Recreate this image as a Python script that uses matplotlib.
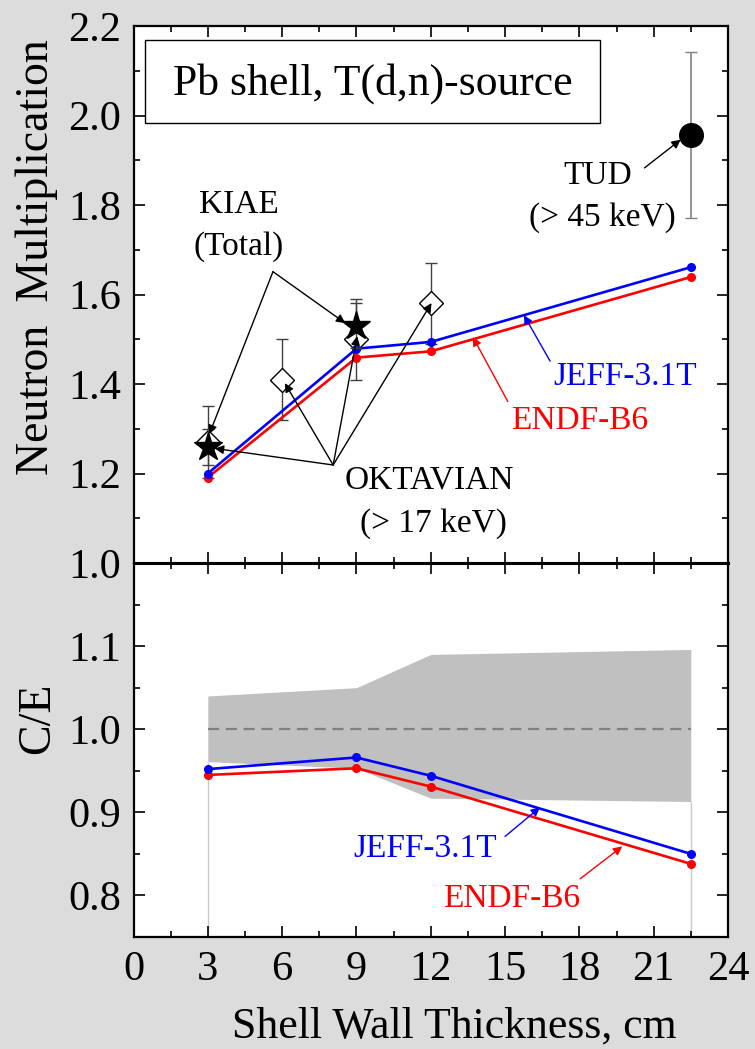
import matplotlib
matplotlib.use("Agg")
import matplotlib.pyplot as plt
from matplotlib.ticker import MultipleLocator, FormatStrFormatter, FixedLocator
from matplotlib.patches import Rectangle

# ---------------- data ----------------
x_calc = [3, 9, 12, 22.5]
jeff_mult = [1.200, 1.479, 1.494, 1.661]
endf_mult = [1.191, 1.459, 1.473, 1.639]
jeff_ce = [0.952, 0.966, 0.944, 0.850]
endf_ce = [0.945, 0.953, 0.931, 0.838]
band_upper = [1.040, 1.050, 1.090, 1.096]
band_lower = [0.961, 0.953, 0.917, 0.913]

kiae_x = [3, 9]
kiae_y = [1.26, 1.53]
kiae_err = [0.04, 0.05]

okt_x = [3, 6, 9, 12]
okt_y = [1.27, 1.41, 1.50, 1.58]
okt_err = [0.08, 0.09, 0.09, 0.09]

tud_x = [22.5]
tud_y = [1.956]
tud_err = [0.186]

x_ticks = [0, 3, 6, 9, 12, 15, 18, 21, 24]
ce_ticks = [0.8, 0.9, 1.0, 1.1]

plt.rcParams['font.family'] = ['Liberation Serif', 'DejaVu Serif']

BG = '#dcdcdc'
fig = plt.figure(figsize=(7.55, 10.49), dpi=100, facecolor=BG)
W, H = 755, 1049
L, R = 133.5, 728
T1, B1 = 26, 563
B2 = 937
ax1 = fig.add_axes([L / W, 1 - B1 / H, (R - L) / W, (B1 - T1) / H])
ax2 = fig.add_axes([L / W, 1 - B2 / H, (R - L) / W, (B2 - B1) / H])

TICK_FS = 30.5
LAB_FS = 33
ANN_FS = 24

for ax in (ax1, ax2):
    ax.set_xlim(0, 24)
    ax.xaxis.set_major_locator(MultipleLocator(3))
    ax.xaxis.set_minor_locator(MultipleLocator(1.5))
    ax.tick_params(which='both', direction='in', top=True, right=True, width=1.2)
    ax.tick_params(which='major', length=8, labelsize=TICK_FS)
    ax.tick_params(which='minor', length=4.5)
    ax.tick_params(axis='y', which='major', pad=9)
    ax.tick_params(axis='x', which='major', pad=10)
    for s in ax.spines.values():
        s.set_linewidth(1.6)

# ---------------- top panel ----------------
ax1.set_ylim(1.0, 2.2)
ax1.yaxis.set_major_locator(MultipleLocator(0.2))
ax1.yaxis.set_minor_locator(MultipleLocator(0.1))
ax1.yaxis.set_major_formatter(FormatStrFormatter('%.1f'))
ax1.tick_params(axis='x', labelbottom=False)
ax1.spines['bottom'].set_linewidth(2.2)
ax2.spines['top'].set_linewidth(2.2)

ax1.plot(x_calc, endf_mult, color='#ff0000', lw=1.9, marker='o', ms=5.5, zorder=4)
ax1.plot(x_calc, jeff_mult, color='#0000ff', lw=1.9, marker='o', ms=5.5, zorder=4)

ax1.errorbar(okt_x, okt_y, yerr=okt_err, fmt='D', ms=12.5, mfc='white', mec='black',
             mew=1.0, ecolor='#404040', elinewidth=1.0, capsize=4, capthick=1.0, zorder=3)
ax1.errorbar(kiae_x, kiae_y, yerr=kiae_err, fmt='*', ms=21, mfc='black', mec='black',
             ecolor='#404040', elinewidth=1.0, capsize=4, capthick=1.0, zorder=5)
ax1.errorbar(tud_x, tud_y, yerr=tud_err, fmt='o', ms=17, mfc='black', mec='black',
             ecolor='#808080', elinewidth=1.2, capsize=4, capthick=1.0, zorder=5)

ax1.add_patch(Rectangle((0.0196, 0.82), 0.7654, 0.153, transform=ax1.transAxes,
                        facecolor='white', edgecolor='black', lw=1.0, zorder=6))
ax1.text(9.68, 2.072, 'Pb shell, T(d,n)-source', fontsize=31.5, ha='center', va='center', zorder=7)

arr = dict(arrowstyle='-|>', color='black', lw=1.0, mutation_scale=13, shrinkA=0, shrinkB=0)
ax1.text(4.25, 1.80, 'KIAE', fontsize=ANN_FS, ha='center', va='center')
ax1.text(4.25, 1.708, '(Total)', fontsize=ANN_FS, ha='center', va='center')
ax1.annotate('', xy=(3.06, 1.288), xytext=(5.63, 1.651), arrowprops=arr, zorder=6)
ax1.annotate('', xy=(8.55, 1.536), xytext=(5.63, 1.651), arrowprops=arr, zorder=6)

ax1.text(11.95, 1.185, 'OKTAVIAN', fontsize=ANN_FS, ha='center', va='center')
ax1.text(12.1, 1.089, '(> 17 keV)', fontsize=ANN_FS, ha='center', va='center')
for tip in [(3.28, 1.256), (6.11, 1.402), (9.03, 1.507), (12.03, 1.581)]:
    ax1.annotate('', xy=tip, xytext=(8.06, 1.219), arrowprops=arr, zorder=6)

ax1.text(18.76, 1.865, 'TUD', fontsize=ANN_FS, ha='center', va='center')
ax1.text(18.92, 1.771, '(> 45 keV)', fontsize=ANN_FS, ha='center', va='center')
ax1.annotate('', xy=(22.09, 1.946), xytext=(20.63, 1.883), arrowprops=arr, zorder=6)

arr_b = dict(arr, color='#0000ff')
arr_r = dict(arr, color='#ff0000')
ax1.text(19.86, 1.416, 'JEFF-3.1T', fontsize=ANN_FS, color='#0000ff', ha='center', va='center')
ax1.annotate('', xy=(15.76, 1.554), xytext=(16.82, 1.451), arrowprops=arr_b, zorder=6)
ax1.text(18.03, 1.317, 'ENDF-B6', fontsize=ANN_FS, color='#ff0000', ha='center', va='center')
ax1.annotate('', xy=(13.70, 1.505), xytext=(15.11, 1.361), arrowprops=arr_r, zorder=6)

ax1.set_ylabel('Neutron  Multiplication', fontsize=LAB_FS, va='center')
ax1.yaxis.set_label_coords(-0.162, 0.57)

# ---------------- bottom panel ----------------
ax2.set_ylim(0.75, 1.2)
ax2.yaxis.set_major_locator(FixedLocator(ce_ticks))
ax2.yaxis.set_minor_locator(MultipleLocator(0.05))
ax2.yaxis.set_major_formatter(FormatStrFormatter('%.1f'))
ax2.set_xticks(x_ticks)
ax2.set_xticklabels([str(v) for v in x_ticks])

ax2.fill_between(x_calc, band_lower, band_upper, color='#c0c0c0', lw=0, zorder=1)
ax2.vlines([x_calc[0], x_calc[-1]], 0.75, [band_lower[0], band_lower[-1]],
           color='#c8c8c8', lw=1.0, zorder=1)
ax2.plot([x_calc[0], x_calc[-1]], [1.0, 1.0], color='#808080', lw=1.6,
         dashes=(5, 3), zorder=2)
ax2.plot(x_calc, endf_ce, color='#ff0000', lw=1.9, marker='o', ms=5.5, zorder=4)
ax2.plot(x_calc, jeff_ce, color='#0000ff', lw=1.9, marker='o', ms=5.5, zorder=4)

ax2.text(11.79, 0.856, 'JEFF-3.1T', fontsize=ANN_FS, color='#0000ff', ha='center', va='center')
ax2.annotate('', xy=(16.41, 0.906), xytext=(15.0, 0.871), arrowprops=arr_b, zorder=6)
ax2.text(15.27, 0.796, 'ENDF-B6', fontsize=ANN_FS, color='#ff0000', ha='center', va='center')
ax2.annotate('', xy=(19.73, 0.859), xytext=(18.03, 0.820), arrowprops=arr_r, zorder=6)

ax2.set_ylabel('C/E', fontsize=LAB_FS, va='center')
ax2.yaxis.set_label_coords(-0.161, 0.585)
ax2.set_xlabel('Shell Wall Thickness, cm', fontsize=31.5, va='center')
ax2.xaxis.set_label_coords(0.54, -0.24)

fig.savefig('out.png', dpi=100, facecolor=BG)
